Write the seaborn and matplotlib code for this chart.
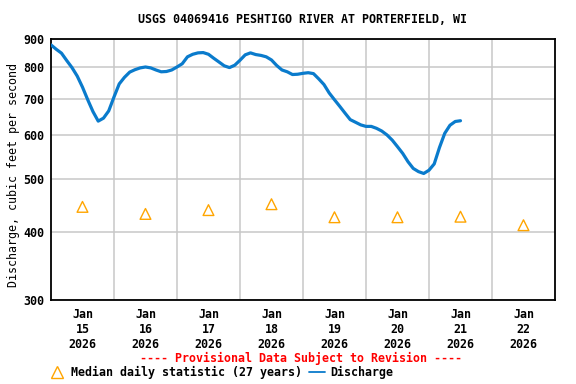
import pandas as pd
import numpy as np
import matplotlib.pyplot as plt
import matplotlib.ticker as mticker
from matplotlib.lines import Line2D
import seaborn as sns

# discharge, cfs, read every 2 hours starting Jan 15 2026 00:00
discharge = [878, 862, 848, 822, 798, 770, 735, 697, 663, 637,
             645, 665, 705, 745, 766, 783, 791, 797, 800, 797,
             790, 784, 785, 790, 800, 811, 835, 844, 849, 850,
             844, 830, 817, 804, 798, 806, 823, 842, 849, 843,
             840, 835, 824, 805, 790, 784, 775, 776, 779, 781,
             778, 761, 743, 717, 697, 678, 659, 641, 634, 627,
             623, 623, 618, 611, 601, 588, 572, 556, 537, 522,
             515, 511, 518, 532, 570, 605, 626, 636, 638]
median_days = ['2026-01-15', '2026-01-16', '2026-01-17', '2026-01-18',
               '2026-01-19', '2026-01-20', '2026-01-21', '2026-01-22']
median_cfs = [444, 431, 438, 449, 425, 425, 426, 411]
day_labels = ['Jan\n15\n2026', 'Jan\n16\n2026', 'Jan\n17\n2026', 'Jan\n18\n2026',
              'Jan\n19\n2026', 'Jan\n20\n2026', 'Jan\n21\n2026', 'Jan\n22\n2026']

start = pd.Timestamp('2026-01-15')
q = pd.DataFrame({'time': pd.date_range(start, periods=len(discharge), freq='2h'),
                  'cfs': discharge})
med = pd.DataFrame({'time': pd.to_datetime(median_days) + pd.Timedelta(hours=12),
                    'cfs': median_cfs})

sns.set_style('white')
plt.rcParams['font.family'] = ['DejaVu Sans Mono']
plt.rcParams['font.weight'] = 'bold'
plt.rcParams['font.size'] = 8.4
for k in ['text.color', 'axes.labelcolor', 'xtick.color', 'ytick.color']:
    plt.rcParams[k] = 'black'

fig = plt.figure(figsize=(5.76, 3.84), dpi=100)
ax = fig.add_axes([0.0885, 0.2188, 0.875, 0.6796])

sns.lineplot(data=q, x='time', y='cfs', ax=ax, color='#0A7BCC', linewidth=2.3, zorder=3)
sns.scatterplot(data=med, x='time', y='cfs', ax=ax, marker='^', s=60,
                facecolors='none', edgecolor='#FFA500', linewidth=1.0, zorder=4)

ax.set_yscale('log')
ax.set_ylim(300, 900)
ax.set_xlim(start, start + pd.Timedelta(days=8))
ax.yaxis.set_major_locator(mticker.FixedLocator([300, 400, 500, 600, 700, 800, 900]))
ax.yaxis.set_major_formatter(mticker.FormatStrFormatter('%d'))
ax.yaxis.set_minor_locator(mticker.NullLocator())

noon = med['time']
midnights = [start + pd.Timedelta(days=d) for d in range(1, 8)]
ax.set_xticks(noon)
ax.set_xticklabels(day_labels, linespacing=1.2)
ax.set_xticks(midnights, minor=True)
ax.tick_params(axis='both', which='both', length=0, labelsize=8.4)
ax.tick_params(axis='x', pad=6)
ax.tick_params(axis='y', pad=5)

ax.grid(False)
ax.grid(True, which='minor', axis='x', color='#C8C8C8', linewidth=1.1)
ax.grid(True, which='major', axis='y', color='#C8C8C8', linewidth=1.1)
for s in ax.spines.values():
    s.set_color('black')
    s.set_linewidth(1.3)

ax.set_xlabel('')
ax.set_ylabel('Discharge, cubic feet per second', fontsize=8.4)
ax.yaxis.set_label_coords(-0.062, 0.48)
fig.text(0.526, 0.950, 'USGS 04069416 PESHTIGO RIVER AT PORTERFIELD, WI',
         ha='center', va='center', fontsize=8.4, weight='bold')
fig.text(0.523, 0.067, '---- Provisional Data Subject to Revision ----',
         ha='center', va='center', fontsize=8.4, weight='bold', color='red')

handles = [Line2D([], [], linestyle='none', marker='^', markersize=8,
                  markerfacecolor='none', markeredgecolor='#FFA500'),
           Line2D([], [], color='#0A7BCC', linewidth=1.3)]
fig.legend(handles, ['Median daily statistic (27 years)', 'Discharge'],
           loc='center left', bbox_to_anchor=(0.084, 0.030), ncol=2, frameon=False,
           fontsize=8.4, handlelength=1.4, handletextpad=0.5, columnspacing=0.6,
           borderaxespad=0, borderpad=0)

fig.savefig('out.png', dpi=100)
